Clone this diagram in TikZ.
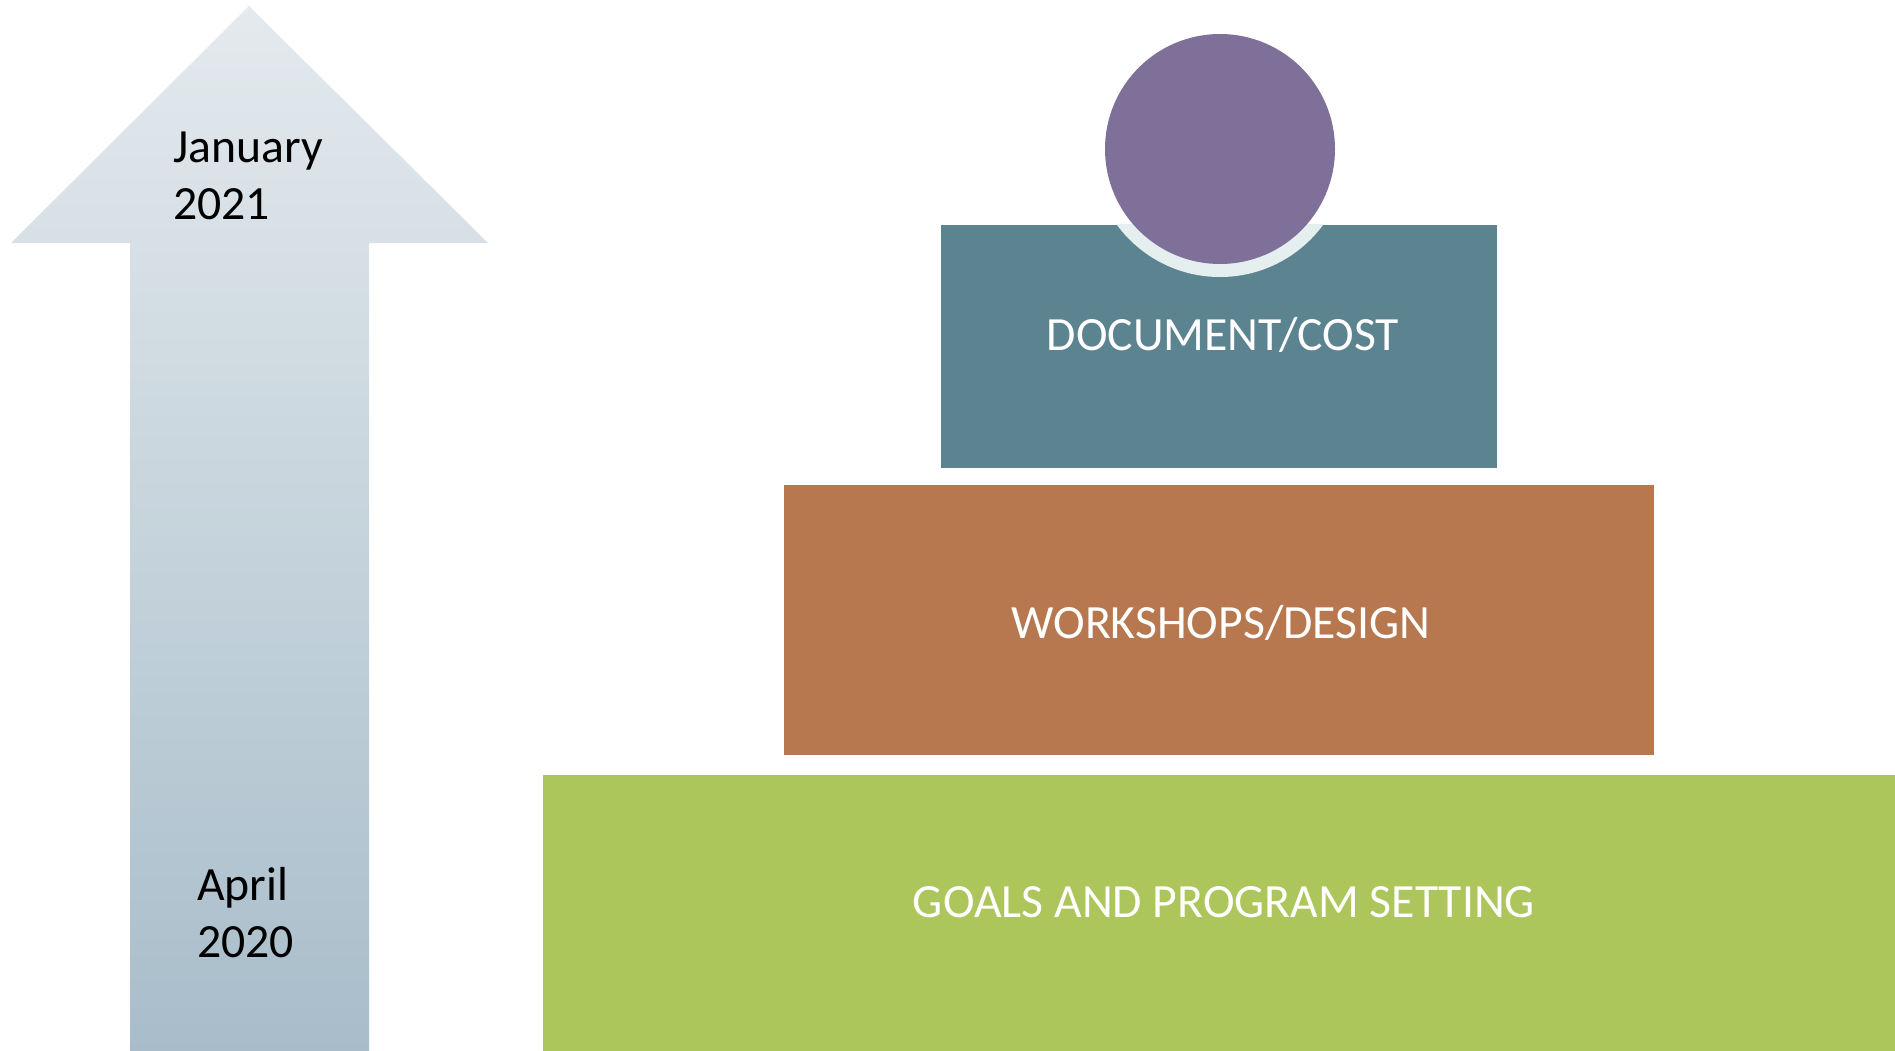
\documentclass[tikz,border=0pt]{standalone}
\usepackage{fontspec}
\setmainfont{Carlito}
\definecolor{arrtop}{HTML}{E4EAEE}
\definecolor{arrbot}{HTML}{A8BDCA}
\definecolor{purp}{HTML}{7E7098}
\definecolor{teal}{HTML}{5C8390}
\definecolor{brown}{HTML}{B77850}
\definecolor{lime}{HTML}{ADC65C}
\definecolor{ring}{HTML}{E6EFEF}
\tikzset{
  block/.style={rectangle, draw=none, inner sep=0pt},
  boxtext/.style={text=white, anchor=base, inner sep=0pt, font=\fontsize{47.7}{57}\selectfont},
  datetext/.style={text=black, anchor=base west, inner sep=0pt, align=left, font=\fontsize{47.7}{57}\selectfont}
}
\begin{document}
\begin{tikzpicture}[x=1pt,y=-1pt]
\useasboundingbox (0,0) rectangle (1895,1051);
% timeline arrow
\shade[top color=arrtop, bottom color=arrbot]
  (249,6) -- (488,243) -- (369,243) -- (369,1051) -- (130,1051) -- (130,243) -- (11,243) -- cycle;
\node[datetext] (jan) at (173,163) {January};
\node[datetext] (y21) at (173,220) {2021};
\node[datetext] (apr) at (197,900) {April};
\node[datetext] (y20) at (197,957) {2020};
% pyramid
\node[block, fill=lime, minimum width=1352pt, minimum height=276pt] (goals) at (1219,913) {};
\node[block, fill=brown, minimum width=870pt, minimum height=270pt] (work) at (1219,620) {};
\node[block, fill=teal, minimum width=556pt, minimum height=243pt] (doc) at (1219,346.5) {};
\begin{scope}
  \clip (doc.north west) rectangle (doc.south east);
  \fill[ring] (1220,149) circle (128pt);
\end{scope}
\node[circle, fill=purp, minimum size=230pt, inner sep=0pt] (top) at (1220,149) {};
\node[boxtext] (doct) at (1223,350) {DOCUMENT/COST};
\node[boxtext] (workt) at (1221,638) {WORKSHOPS/DESIGN};
\node[boxtext] (goalst) at (1224,917) {GOALS AND PROGRAM SETTING};
\end{tikzpicture}
\end{document}
